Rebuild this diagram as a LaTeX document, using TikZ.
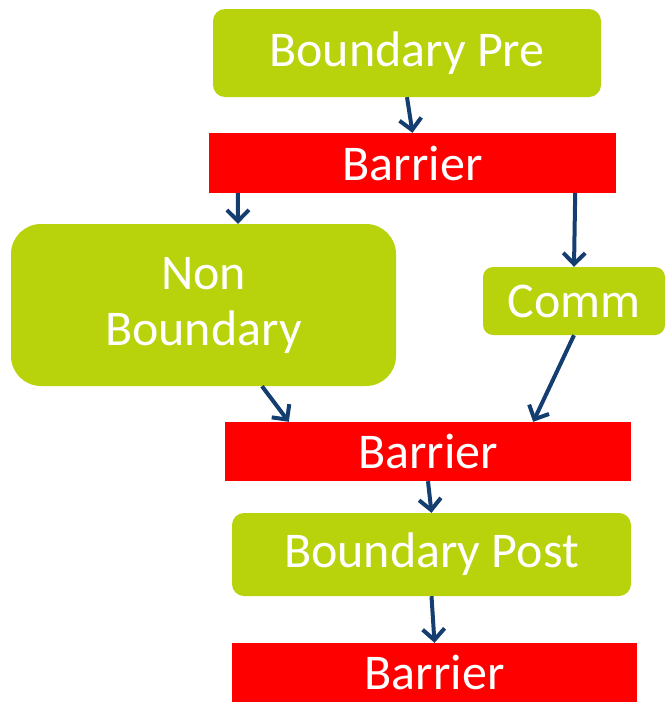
\documentclass[tikz,border=0pt]{standalone}
\usepackage{fontspec}
\setmainfont{Carlito}
\usetikzlibrary{arrows.meta, positioning}

\definecolor{boxgreen}{RGB}{184,210,11}
\definecolor{barred}{RGB}{255,0,0}
\definecolor{flowblue}{RGB}{20,62,112}

\tikzset{
    phase/.style={fill=boxgreen, rounded corners=12pt, text=white, inner sep=0pt,
        font=\fontsize{50}{56}\selectfont, align=center},
    barrier/.style={fill=barred, text=white, inner sep=0pt, minimum height=59pt,
        minimum width=406pt, font=\fontsize{50}{56}\selectfont},
    flow/.style={draw=flowblue, line width=4pt, -{Straight Barb[length=11pt,width=22pt]}}
}

\begin{document}
\begin{tikzpicture}[x=1pt, y=-1pt]
        \useasboundingbox (0,0) rectangle (665,702);

        %Kaesten
        \node[phase, minimum width=388pt, minimum height=88pt] (pre) at (407,53) {Boundary Pre};
        \node[barrier, minimum width=407pt, minimum height=60pt] (bar1) at (412.5,163) {Barrier};
        \node[phase, rounded corners=30pt, minimum width=385pt, minimum height=162pt] (non) at (203.5,305) {Non\\Boundary};
        \node[phase, rounded corners=10pt, minimum width=182pt, minimum height=68pt] (comm) at (574,301) {Comm};
        \node[barrier] (bar2) at (428,451.5) {Barrier};
        \node[phase, minimum width=399pt, minimum height=83pt] (post) at (431.5,554.5) {Boundary Post};
        \node[barrier, minimum width=405pt] (bar3) at (434.5,672.5) {Barrier};

        %Pfeile
        \draw[flow] (pre.south) -- (bar1.north);
        \draw[flow] ([xshift=29pt]bar1.south west) -- ([xshift=34.5pt]non.north);
        \draw[flow] ([xshift=-41pt]bar1.south east) -- (comm.north);
        \draw[flow] ([xshift=58.5pt]non.south) -- ([xshift=64pt]bar2.north west);
        \draw[flow] (comm.south) -- ([xshift=-98pt]bar2.north east);
        \draw[flow] (bar2.south) -- (post.north);
        \draw[flow] (post.south) -- (bar3.north);

    \end{tikzpicture}
\end{document}
